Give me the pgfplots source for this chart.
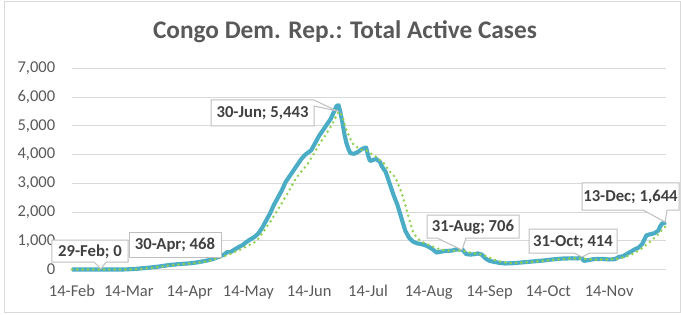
\documentclass[border=0pt]{standalone}
\usepackage{fontspec}
\setmainfont{Carlito}
\usepackage{pgfplots}
\pgfplotsset{compat=1.18}
\definecolor{blueline}{HTML}{4BACC6}
\definecolor{greenline}{HTML}{92D050}
\definecolor{gridc}{HTML}{D9D9D9}
\definecolor{txt}{HTML}{595959}
\definecolor{lbl}{HTML}{404040}
\definecolor{boxc}{HTML}{BFBFBF}
\begin{document}
\begin{tikzpicture}
\begin{axis}[at={(0,0)}, anchor=south west,
  width=445.5pt, height=150.75pt, scale only axis,
  xmin=0, xmax=303, ymin=0, ymax=7000, clip=false,
  axis line style={draw=none}, major tick length=0pt,
  ytick={0,1000,...,7000}, ymajorgrids, grid style={gridc, line width=0.75pt},
  scaled y ticks=false,
  xtick={0,29,60,90,121,151,182,213,243,274},
  xticklabels={14-Feb,14-Mar,14-Apr,14-May,14-Jun,14-Jul,14-Aug,14-Sep,14-Oct,14-Nov},
  tick label style={font=\fontsize{12.4}{14}\selectfont, text=txt},
  /pgf/number format/assume math mode=true, /pgf/number format/1000 sep={,},
  yticklabel style={anchor=east, inner sep=0pt, xshift=-12.4pt},
  xticklabel style={anchor=base, inner sep=0pt, yshift=-20.6pt},
]
\addplot[blueline, line width=3.1pt, line join=round] coordinates {
(0,0)(24,0)(26,1)(28,5)(30,12)(32,20)(34,30)(36,45)(38,55)(40,70)(42,85)(44,100)(46,120)(48,140)(50,160)(52,170)(54,185)(56,195)(58,205)(60,215)(62,230)(64,250)(66,275)(68,300)(70,330)(72,370)(74,420)(76,468)(78,540)(79,600)(81,610)(83,700)(85,780)(87,850)(89,960)(91,1050)(93,1130)(95,1250)(97,1450)(99,1700)(101,1950)(103,2250)(105,2500)(107,2750)(109,3050)(111,3250)(113,3450)(115,3650)(117,3850)(119,4000)(121,4100)(122,4150)(124,4400)(126,4650)(128,4850)(130,5050)(132,5250)(133,5400)(134,5550)(135,5700)(136,5720)(137,5443)(138,5100)(139,4700)(140,4400)(141,4200)(142,4050)(144,4030)(146,4100)(148,4200)(150,4250)(151,3980)(152,3780)(153,3800)(155,3850)(157,3760)(158,3600)(160,3400)(162,3000)(164,2600)(166,2250)(168,1800)(170,1350)(172,1100)(174,970)(176,910)(178,890)(180,850)(182,790)(184,700)(186,590)(188,620)(190,640)(192,650)(194,660)(196,700)(198,690)(199,706)(200,620)(201,540)(203,520)(205,530)(207,560)(209,520)(211,380)(213,300)(215,270)(218,230)(221,210)(225,220)(230,250)(235,280)(240,310)(245,350)(250,380)(255,390)(258,385)(260,414)(261,300)(263,320)(266,360)(270,370)(274,350)(277,360)(279,440)(281,460)(283,540)(285,620)(287,700)(289,760)(291,900)(292,1050)(293,1190)(295,1230)(297,1260)(299,1350)(300,1500)(301,1600)(302,1620)(303,1644)
};
\addplot[greenline, line width=2.1pt, dash pattern=on 0pt off 4pt, line cap=round] coordinates {
(0,0)(26,0)(30,4)(34,18)(38,40)(42,70)(46,105)(50,140)(54,170)(58,195)(62,220)(66,255)(70,305)(74,380)(78,470)(82,580)(86,700)(90,840)(94,980)(98,1350)(102,1750)(106,2200)(110,2650)(114,3150)(118,3500)(120,3650)(123,3990)(126,4350)(130,4750)(133,5100)(136,5500)(137,5450)(138,5300)(140,4850)(143,4400)(147,4170)(150,4150)(155,3930)(159,3700)(162,3420)(165,3200)(168,2700)(170,2250)(172,1750)(174,1300)(176,1100)(178,980)(181,880)(184,800)(187,720)(190,670)(193,650)(196,660)(199,660)(202,610)(205,560)(208,540)(211,470)(214,380)(217,300)(220,250)(224,225)(230,240)(236,270)(242,310)(248,350)(254,380)(258,390)(262,370)(266,345)(270,345)(274,355)(278,370)(282,430)(286,540)(290,700)(294,920)(298,1150)(301,1380)(303,1520)
};
\end{axis}
\begin{scope}[x=0.75pt, y=-0.75pt, shift={(-54pt,202.125pt)}]
\tikzset{lb/.style={fill=white, draw=boxc, line width=0.75pt},
  lt/.style={anchor=base, inner sep=0pt, text=lbl, font=\fontsize{12.5}{14}\selectfont\bfseries}}
\node[anchor=base, inner sep=0pt, text=txt, font=\fontsize{19}{22}\selectfont\bfseries] at (345,38.3) {Congo Dem. Rep.: Total Active Cases};
\filldraw[lb] (52,240) -- (128,240) -- (128,262) -- (106,262) -- (101,269) -- (94,262) -- (52,262) -- cycle;
\node[lt] at (90,256) {29-Feb; 0};
\filldraw[lb] (129,232) rectangle (221,257);
\node[lt] at (175,249.5) {30-Apr; 468};
\filldraw[lb] (211,100) -- (314,100) -- (337,111) -- (314,106) -- (314,126) -- (211,126) -- cycle;
\node[lt] at (262.5,118) {30-Jun; 5,443};
\filldraw[lb] (427,215) -- (519,215) -- (519,238) -- (466,238) -- (462,250) -- (437,238) -- (427,238) -- cycle;
\node[lt] at (473,231.5) {31-Aug; 706};
\filldraw[lb] (529,229) -- (617,229) -- (617,253) -- (590,253) -- (582,257) -- (574,253) -- (529,253) -- cycle;
\node[lt] at (573,246) {31-Oct; 414};
\filldraw[lb] (582,183) -- (679,183) -- (679,210) -- (667,210) -- (665,222) -- (643,210) -- (582,210) -- cycle;
\node[lt] at (630.5,201.5) {13-Dec; 1,644};
\draw[gridc, line width=0.75pt] (5,2) rectangle (680,312);
\pgfresetboundingbox
\path[use as bounding box] (0,0) rectangle (681,314);
\end{scope}
\end{tikzpicture}
\end{document}
